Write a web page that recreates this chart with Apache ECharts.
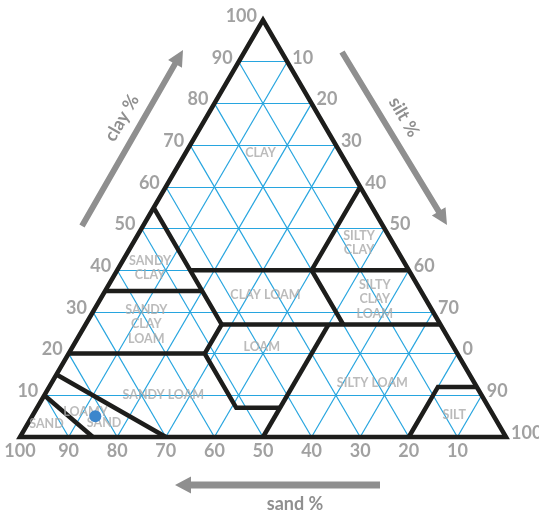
<!DOCTYPE html>
<html>
<head>
<meta charset="utf-8">
<script src="https://cdn.jsdelivr.net/npm/echarts@6/dist/echarts.min.js"></script>
<style>
html, body { margin: 0; padding: 0; background: #fff; }
#main { width: 539px; height: 511px; }
</style>
</head>
<body>
<div id="main"></div>
<script>
// grid lines every 10 %
var gridTicks = [10, 20, 30, 40, 50, 60, 70, 80, 90];

// side labels
var clayTicks = [10, 20, 30, 40, 50, 60, 70, 80, 90, 100];
var clayLabels = ['10', '20', '30', '40', '50', '60', '70', '80', '90', '100'];
var siltTicks = [10, 20, 30, 40, 50, 60, 70, 80, 90, 100];
var siltLabels = ['10', '20', '30', '40', '50', '60', '70', '0', '90', '100'];
var sandTicks = [100, 90, 80, 70, 60, 50, 40, 30, 20, 10];
var sandLabels = ['100', '90', '80', '70', '60', '50', '40', '30', '20', '10'];

// texture class borders, points are [sand %, clay %]
var outline = [[100, 0], [0, 0], [0, 100], [100, 0], [0, 0]];
var borders = [
  [[90, 10], [85, 0]],
  [[85, 15], [70, 0]],
  [[80, 20], [52, 20], [52, 7], [43, 7]],
  [[23, 27], [50, 0]],
  [[45, 55], [45, 27], [52, 20]],
  [[65, 35], [45, 35]],
  [[45, 27], [0, 27]],
  [[45, 40], [0, 40]],
  [[20, 27], [20, 40], [0, 60]],
  [[20, 0], [8, 12], [0, 12]]
];

// class names and where they sit
var classNames = ['CLAY', 'SILTY\nCLAY', 'SANDY\nCLAY', 'CLAY LOAM', 'SILTY\nCLAY\nLOAM',
  'SANDY\nCLAY\nLOAM', 'LOAM', 'SILTY LOAM', 'SANDY LOAM', 'LOAMY', 'SAND', 'SAND', 'SILT'];
var classSand = [16.5, 7, 53, 32.5, 10.5, 60.5, 39.5, 21, 65.5, 83.5, 81, 93, 8];
var classClay = [68, 46.5, 40.5, 34, 33, 27, 21.5, 13, 10, 6, 3.4, 3.1, 5.3];

// the sample
var sampleSand = [82];
var sampleClay = [5];

// sand/clay -> plot x,y (x = silt + clay/2)
function pos(sand, clay) {
  return [100 - sand - clay / 2, clay];
}

var gridSegs = [];
gridTicks.forEach(function (t) {
  gridSegs.push({ coords: [pos(100 - t, t), pos(0, t)] });
  gridSegs.push({ coords: [pos(t, 0), pos(t, 100 - t)] });
  gridSegs.push({ coords: [pos(100 - t, 0), pos(0, 100 - t)] });
});

var borderSegs = [{ coords: outline.map(function (p) { return pos(p[0], p[1]); }) }];
borders.forEach(function (b) {
  borderSegs.push({ coords: b.map(function (p) { return pos(p[0], p[1]); }) });
});

var tickFont = { fontFamily: 'Lato', fontWeight: 'bold', fontSize: 18, color: '#8a8a8a' };

function tickSeries(points, names, lbl) {
  return {
    type: 'scatter', silent: true, clip: false, symbolSize: 0,
    data: points.map(function (p, i) { return { value: p, name: names[i] }; }),
    label: Object.assign({ show: true, formatter: '{b}' }, tickFont, lbl)
  };
}

function arrow(x1, y1, x2, y2, sw, hl, hw) {
  var dx = x2 - x1, dy = y2 - y1, L = Math.sqrt(dx * dx + dy * dy);
  var ux = dx / L, uy = dy / L, nx = -uy, ny = ux;
  var bx = x2 - ux * hl, by = y2 - uy * hl;
  return [
    [x1 + nx * sw / 2, y1 + ny * sw / 2], [bx + nx * sw / 2, by + ny * sw / 2],
    [bx + nx * hw / 2, by + ny * hw / 2], [x2, y2],
    [bx - nx * hw / 2, by - ny * hw / 2], [bx - nx * sw / 2, by - ny * sw / 2],
    [x1 - nx * sw / 2, y1 - ny * sw / 2]
  ];
}

var arrowColor = '#8f8f8f';
var axisFont = 'bold 18px Lato';

var chart = echarts.init(document.getElementById('main'));
chart.setOption({
  animation: false,
  grid: { left: 20, top: 20, width: 486, height: 417 },
  xAxis: { type: 'value', min: 0, max: 100, show: false },
  yAxis: { type: 'value', min: 0, max: 100, show: false },
  series: [
    {
      type: 'lines', coordinateSystem: 'cartesian2d', silent: true, clip: false,
      lineStyle: { color: '#27a5df', width: 1.2, opacity: 1 },
      data: gridSegs
    },
    {
      type: 'lines', coordinateSystem: 'cartesian2d', polyline: true, silent: true, clip: false,
      lineStyle: { color: '#1d1d1b', width: 4.5, opacity: 1, join: 'miter', cap: 'butt' },
      data: borderSegs
    },
    {
      type: 'scatter', silent: true, clip: false, symbolSize: 0,
      data: classNames.map(function (n, i) { return { value: pos(classSand[i], classClay[i]), name: n }; }),
      label: {
        show: true, position: 'inside', formatter: '{b}',
        fontFamily: 'Lato', fontWeight: 'bold', fontSize: 12.5, lineHeight: 14.5, color: '#aaaaaa'
      }
    },
    tickSeries(clayTicks.map(function (c) { return pos(100 - c, c); }), clayLabels,
      { position: 'left', distance: 6, offset: [0, -4] }),
    tickSeries(siltTicks.map(function (s) { return pos(0, 100 - s); }), siltLabels,
      { position: 'right', distance: 5, offset: [0, -4] }),
    tickSeries(sandTicks.map(function (s) { return pos(s, 0); }), sandLabels,
      { position: 'bottom', distance: 5 }),
    {
      type: 'scatter', silent: true, clip: false, symbolSize: 12, z: 10,
      itemStyle: { color: '#3b86cc', opacity: 1 },
      data: sampleSand.map(function (s, i) { return pos(s, sampleClay[i]); })
    }
  ],
  graphic: [
    { type: 'polygon', silent: true, shape: { points: arrow(82, 226, 183, 50, 6, 16, 16) }, style: { fill: arrowColor } },
    { type: 'polygon', silent: true, shape: { points: arrow(342, 52, 447, 225, 6, 16, 16) }, style: { fill: arrowColor } },
    { type: 'polygon', silent: true, shape: { points: arrow(380, 485, 175, 485, 7, 16, 17) }, style: { fill: arrowColor } },
    { type: 'text', silent: true, x: 122, y: 118, rotation: Math.PI / 3,
      style: { text: 'clay %', font: axisFont, fill: arrowColor, align: 'center', verticalAlign: 'middle' } },
    { type: 'text', silent: true, x: 404, y: 117, rotation: -Math.PI / 3,
      style: { text: 'silt %', font: axisFont, fill: arrowColor, align: 'center', verticalAlign: 'middle' } },
    { type: 'text', silent: true, x: 295, y: 504,
      style: { text: 'sand %', font: axisFont, fill: arrowColor, align: 'center', verticalAlign: 'middle' } }
  ]
});
</script>
</body>
</html>
